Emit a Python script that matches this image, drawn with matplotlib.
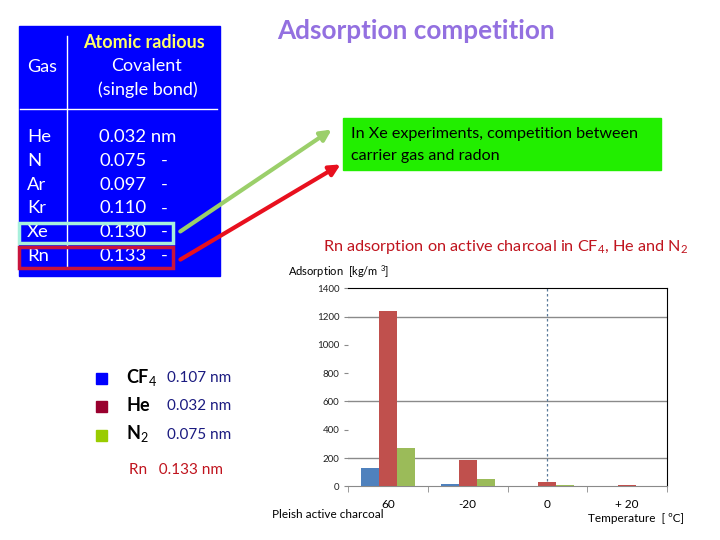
import numpy as np
import matplotlib
matplotlib.use('Agg')
import matplotlib.pyplot as plt
from matplotlib.patches import Rectangle

plt.rcParams['font.family'] = ['Lato', 'DejaVu Sans']
plt.rcParams['mathtext.fontset'] = 'custom'
plt.rcParams['mathtext.rm'] = 'Lato'
plt.rcParams['mathtext.bf'] = 'Lato:bold'

# table data
gases = ['He', 'N', 'Ar', 'Kr', 'Xe', 'Rn']
radii = ['0.032 nm', '0.075', '0.097', '0.110', '0.130', '0.133']

# bar chart data
temps = ['60', '-20', '0', '+ 20']
cf4 = [130, 16, 0, 0]
he = [1240, 186, 30, 8]
n2 = [270, 52, 8, 0]

# legend entries
legend_names = ['CF$_4$', 'He', 'N$_2$']
legend_radii = ['0.107 nm', '0.032 nm', '0.075 nm']
legend_cols = ['#0000ff', '#99002e', '#99cc00']

fig = plt.figure(figsize=(7.2, 5.4), dpi=100)

# overlay in pixel coordinates
ov = fig.add_axes([0, 0, 1, 1])
ov.set_xlim(0, 720)
ov.set_ylim(540, 0)
ov.axis('off')

# blue table
ov.add_patch(Rectangle((19, 26), 201, 250, color='#0000ff', zorder=1))
ov.plot([20, 217], [109, 109], color='white', lw=1, zorder=2)
ov.plot([66.5, 66.5], [36, 268], color='white', lw=1, zorder=2)
ov.text(27, 67, 'Gas', color='white', fontsize=13, va='center', zorder=3)
ov.text(144, 42, 'Atomic radious', color='#ffff66', fontsize=13, fontweight='bold',
        ha='center', va='center', zorder=3)
ov.text(146, 66, 'Covalent', color='white', fontsize=13, ha='center', va='center', zorder=3)
ov.text(148, 90, '(single bond)', color='white', fontsize=13, ha='center', va='center', zorder=3)
for i, (g, r) in enumerate(zip(gases, radii)):
    y = 137 + i * 23.8
    ov.text(27, y, g, color='white', fontsize=13.3, va='center', zorder=3)
    ov.text(99, y, r, color='white', fontsize=13.3, va='center', zorder=3)
    if i > 0:
        ov.text(161, y, '-', color='white', fontsize=13.3, va='center', zorder=3)

ov.add_patch(Rectangle((19, 223), 154, 20, fill=False, ec='#a8f0dc', lw=2.5, zorder=4))
ov.add_patch(Rectangle((19, 247), 154, 21, fill=False, ec='#c8143c', lw=2.5, zorder=4))

# arrows
ov.annotate('', xy=(334, 128), xytext=(178, 233),
            arrowprops=dict(arrowstyle='-|>', color='#9bcf6a', lw=3, mutation_scale=16))
ov.annotate('', xy=(343, 163), xytext=(178, 261),
            arrowprops=dict(arrowstyle='-|>', color='#e8101e', lw=3, mutation_scale=16))

# title
ov.text(277, 31, 'Adsorption competition', color='#9370e0', fontsize=18.8,
        fontweight='bold', va='center')

# green box
ov.add_patch(Rectangle((343, 118), 318, 52, color='#22ee00', zorder=1))
ov.text(351, 134, 'In Xe experiments, competition between', fontsize=11.6, va='center')
ov.text(351, 156, 'carrier gas and radon', fontsize=11.6, va='center')

ov.text(323, 247, 'Rn adsorption on active charcoal in CF$_4$, He and N$_2$',
        color='#c0141e', fontsize=11.7, va='center')

# legend
for i in range(3):
    y = 378 + i * 28.5
    ov.add_patch(Rectangle((96, y - 5.5), 11, 11, color=legend_cols[i]))
    ov.text(126, y - 1, legend_names[i], fontsize=13, fontweight='bold', va='center')
    ov.text(167, y, legend_radii[i], color='#1a1a80', fontsize=11, va='center')
ov.text(129, 470, 'Rn   0.133 nm', color='#c0141e', fontsize=11, va='center')

# chart labels
ov.text(288, 272, 'Adsorption  [kg/m $^3$]', fontsize=8, va='center')
ov.text(272, 515, 'Pleish active charcoal', fontsize=8.5, va='center')
ov.text(588, 519, 'Temperature  [ ºC]', fontsize=8.5, va='center')

# bar chart
ax = fig.add_axes([348.3 / 720, 1 - 486.3 / 540, 318.4 / 720, 198 / 540])
x = np.arange(len(temps))
w = 0.225
ax.bar(x - w, cf4, w, color='#4f81bd', zorder=3)
ax.bar(x, he, w, color='#c0504d', zorder=3)
ax.bar(x + w, n2, w, color='#9bbb59', zorder=3)
ax.set_xlim(-0.5, 3.5)
ax.set_ylim(0, 1400)
ax.set_yticks(np.arange(0, 1401, 200))
for gy in [200, 600, 1200]:
    ax.axhline(gy, color='#8a8a8a', lw=1, zorder=1)
ax.axvline(2, color='#5a7a9a', lw=0.9, ls=(0, (2, 2)), zorder=1)
ax.set_xticks(x)
ax.set_xticklabels(temps)
ax.set_xticks(np.arange(-0.5, 3.6, 1), minor=True)
ax.tick_params(axis='x', which='major', length=0, labelsize=8.5, pad=9)
ax.tick_params(axis='x', which='minor', length=4, color='#8a8a8a', direction='out')
ax.tick_params(axis='y', length=3, color='#8a8a8a', labelsize=7, labelcolor='#222222')
ax.spines['left'].set_visible(False)
ax.spines['bottom'].set_color('#8a8a8a')
ax.spines['top'].set_color('black')
ax.spines['right'].set_color('black')
ax.patch.set_alpha(0)

fig.savefig('out.png', dpi=100)
